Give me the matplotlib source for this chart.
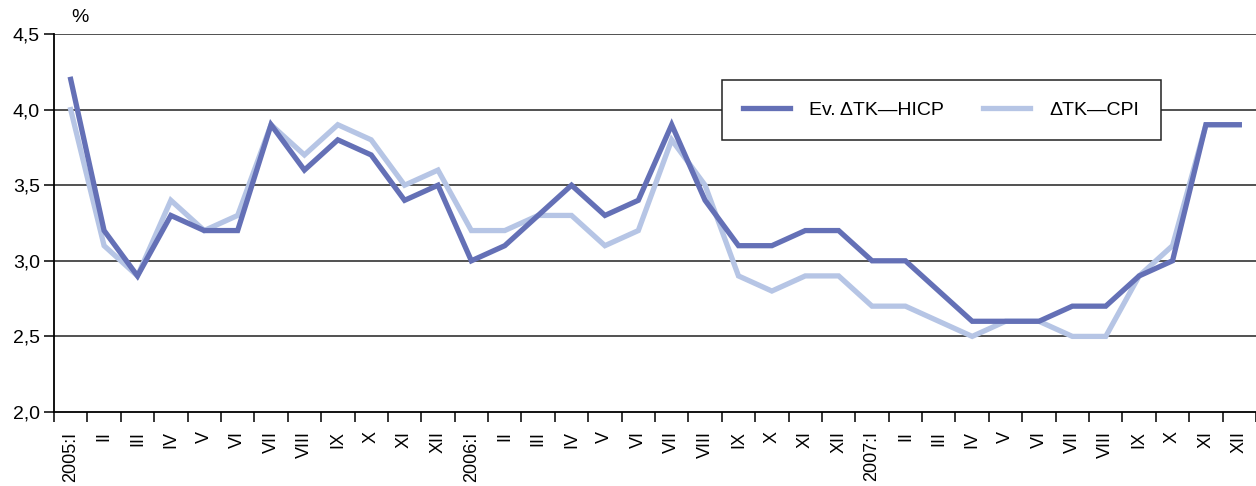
import numpy as np
import matplotlib.pyplot as plt
from matplotlib.ticker import FixedLocator, FuncFormatter

months = ['I', 'II', 'III', 'IV', 'V', 'VI', 'VII', 'VIII', 'IX', 'X', 'XI', 'XII']
years = ['2005', '2006', '2007']
labels = [(y + ':' + m) if m == 'I' else m for y in years for m in months]

hicp = [4.2, 3.2, 2.9, 3.3, 3.2, 3.2, 3.9, 3.6, 3.8, 3.7, 3.4, 3.5,
        3.0, 3.1, 3.3, 3.5, 3.3, 3.4, 3.9, 3.4, 3.1, 3.1, 3.2, 3.2,
        3.0, 3.0, 2.8, 2.6, 2.6, 2.6, 2.7, 2.7, 2.9, 3.0, 3.9, 3.9]
cpi = [4.0, 3.1, 2.9, 3.4, 3.2, 3.3, 3.9, 3.7, 3.9, 3.8, 3.5, 3.6,
       3.2, 3.2, 3.3, 3.3, 3.1, 3.2, 3.8, 3.5, 2.9, 2.8, 2.9, 2.9,
       2.7, 2.7, 2.6, 2.5, 2.6, 2.6, 2.5, 2.5, 2.9, 3.1, 3.9, 3.9]

plt.rcParams['font.family'] = ['Liberation Sans', 'DejaVu Sans']
fs = 14

fig = plt.figure(figsize=(12.56, 4.86), dpi=100)
ax = fig.add_axes([54/1256, 74/486, 1 - 54/1256, 378/486])

x = np.arange(len(labels))
ax.plot(x, hicp, color='#6470b6', lw=3.8, solid_joinstyle='miter',
        label='Ev. \u0394TK\u2014HICP', zorder=3)
ax.plot(x, cpi, color='#b6c5e5', lw=3.8, solid_joinstyle='miter',
        label='\u0394TK\u2014CPI', zorder=2)

ax.set_xlim(-0.5, len(labels) - 0.5)
ax.set_ylim(2.0, 4.5)

# horizontal grid
for v in [2.5, 3.0, 3.5, 4.0, 4.5]:
    ax.axhline(v, color='#222222', lw=1.1, zorder=1)

ax.set_yticks([2.0, 2.5, 3.0, 3.5, 4.0, 4.5])
ax.yaxis.set_major_formatter(FuncFormatter(lambda v, p: f'{v:.1f}'.replace('.', ',')))
ax.tick_params(axis='y', length=7, width=1.1, labelsize=fs, pad=3)

# boundary ticks between months, labels at centers
ax.xaxis.set_major_locator(FixedLocator(np.arange(len(labels) + 1) - 0.5))
ax.xaxis.set_major_formatter(FuncFormatter(lambda v, p: ''))
ax.xaxis.set_minor_locator(FixedLocator(x))
ax.set_xticklabels(labels, minor=True, rotation=90, fontsize=13, va='top')
ax.tick_params(axis='x', which='major', length=7, width=1.1, direction='out')
ax.tick_params(axis='x', which='minor', length=0, pad=14)

for s in ['top', 'right']:
    ax.spines[s].set_visible(False)
ax.spines['left'].set_linewidth(1.3)
ax.spines['bottom'].set_linewidth(1.3)

fig.text(80 / 1256, 1 - 18 / 486, '%', fontsize=fs, ha='center', va='center')

leg = ax.legend(loc='upper left', bbox_to_anchor=((722 - 54) / 1202, 1 - (80 - 34) / 378),
                ncol=2, fontsize=fs, frameon=True, fancybox=False, handlelength=2.4,
                columnspacing=2.0, handletextpad=1.0, borderpad=1.1, borderaxespad=0)
leg.get_frame().set_edgecolor('#222222')
leg.get_frame().set_linewidth(1.1)
leg.get_frame().set_alpha(1)

fig.savefig('out.png', dpi=100)
